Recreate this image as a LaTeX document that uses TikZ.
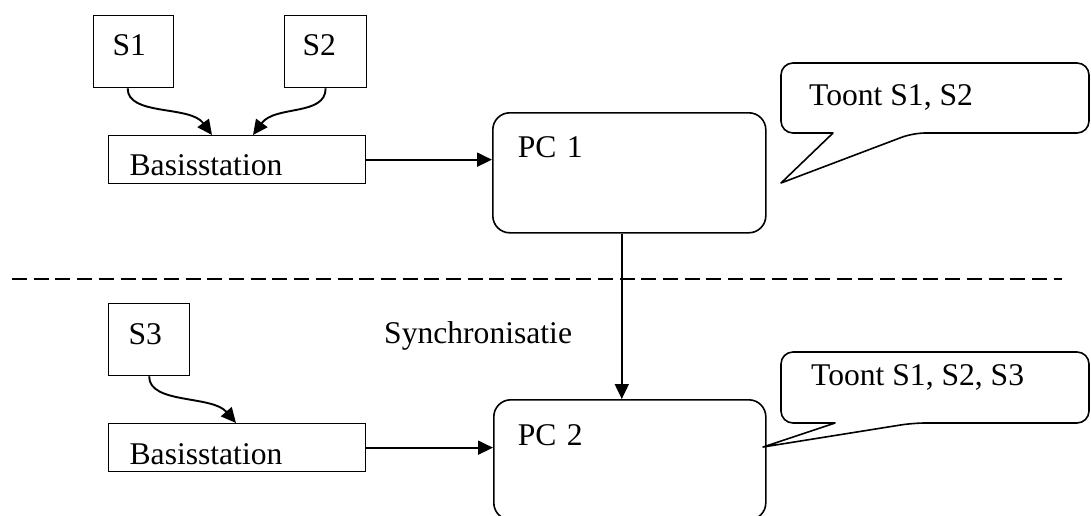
\documentclass[tikz,border=0pt]{standalone}
\usepackage{fontspec}
\setmainfont{Liberation Serif}
\usetikzlibrary{arrows.meta}
\begin{document}
\begin{tikzpicture}[x=1pt,y=-1pt,
  every node/.style={font=\fontsize{31.6pt}{36pt}\selectfont},
  sbox/.style={draw, line width=1.3pt, anchor=north west, inner ysep=0pt, align=left},
  pcbox/.style={sbox, line width=1.6pt, rounded corners=17pt},
  arr/.style={line width=1.9pt, -{Triangle[length=15pt,width=14pt]}},
  lbl/.style={anchor=base west, inner sep=0pt},
  calloutline/.style={line width=1.6pt, line join=round},
  sepline/.style={line width=1.5pt, dash pattern=on 15pt off 6.7pt}]
\useasboundingbox (0,0) rectangle (1091,515);
\clip (0,0) rectangle (1091,515);
\fill[white] (0,0) rectangle (1091,515);

% boxes
\node[sbox, inner xsep=19pt, text width=42pt, text height=40pt, text depth=32pt] (s1) at (93,15) {S1};
\node[sbox, inner xsep=18pt, text width=46pt, text height=40pt, text depth=32pt] (s2) at (284,15) {S2};
\node[sbox, inner xsep=20pt, text width=41pt, text height=41pt, text depth=31pt] (s3) at (108,303) {S3};
\node[sbox, inner xsep=21pt, text width=215pt, text height=40pt, text depth=8pt] (b1) at (108,135) {Basisstation};
\node[sbox, inner xsep=21pt, text width=215pt, text height=41pt, text depth=7pt] (b2) at (108,423) {Basisstation};
\node[pcbox, inner xsep=25pt, text width=223pt, text height=45pt, text depth=75pt] (pc1) at (492,112) {PC 1};
\node[pcbox, inner xsep=24pt, text width=224pt, text height=46pt, text depth=74pt] (pc2) at (493,399) {PC 2};

% separator
\draw[sepline] (12,279) -- (1062,279);
\node[lbl] (sync) at (384,343) {Synchronisatie};

% callouts
\draw[calloutline] (833,133) [rounded corners=12pt] -- (781,133) -- (781,63) -- (1089,63) -- (1089,133) -- (913,133) [sharp corners] -- (781,183) -- cycle;
\node[lbl] (t1) at (809,105) {Toont S1, S2};
\draw[calloutline] (835,423) [rounded corners=12pt] -- (781,423) -- (781,352) -- (1089,352) -- (1089,423) -- (913,423) [sharp corners] -- (763,447) -- cycle;
\node[lbl] (t2) at (811,385) {Toont S1, S2, S3};

% connectors
\draw[arr] ([xshift=-6pt]s1.south) .. controls +(0,28) and +(-22,-30) .. ([xshift=104pt]b1.north west);
\draw[arr] (s2.south) .. controls +(0,28) and +(22,-30) .. ([xshift=145pt]b1.north west);
\draw[arr] (s3.south) .. controls +(0,28) and +(-24,-28) .. ([xshift=128pt]b2.north west);
\draw[arr] (b1.east) -- (b1.east -| pc1.west);
\draw[arr] (b2.east) -- (b2.east -| pc2.west);
\draw[arr] ([xshift=-7.5pt]pc1.south) -- ([xshift=-7.5pt]pc1.south |- pc2.north);
\end{tikzpicture}
\end{document}
